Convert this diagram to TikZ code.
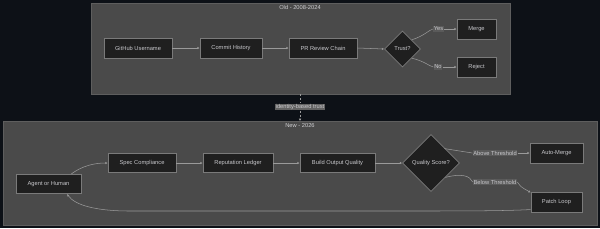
\documentclass[tikz,border=0pt]{standalone}
\usepackage{fontspec}
\setmainfont{Liberation Sans}
\usetikzlibrary{shapes.geometric,arrows.meta}
\definecolor{bgc}{HTML}{0D1117}
\definecolor{clfill}{HTML}{4A4A4A}
\definecolor{cldraw}{HTML}{5E5E5E}
\definecolor{nfill}{HTML}{1F1F1F}
\definecolor{ndraw}{HTML}{7A7A7A}
\definecolor{ntext}{HTML}{C8C8CC}
\definecolor{ecol}{HTML}{9A9A9A}
\definecolor{lfill}{HTML}{5A5A5A}
\begin{document}
\begin{tikzpicture}[x=0.3mm,y=-0.3mm,
  every node/.style={font=\fontsize{4.9}{5.5}\selectfont, text=ntext, inner sep=0pt},
  cluster/.style={draw=cldraw, fill=clfill, line width=0.4pt},
  ctitle/.style={font=\fontsize{4.9}{5.5}\selectfont, text=ntext!90!white},
  box/.style={draw=ndraw, fill=nfill, rectangle, line width=0.5pt, minimum height=6mm},
  dia/.style={draw=ndraw, fill=nfill, diamond, line width=0.5pt, aspect=1},
  elab/.style={fill=lfill, text=ntext, inner sep=0.6pt},
  edge/.style={draw=ecol, line width=0.45pt, -{Latex[length=2pt,width=2pt]}},
  plain/.style={draw=ecol, line width=0.45pt}
]
\useasboundingbox (0,0) rectangle (600,228);
\fill[bgc] (0,0) rectangle (600,228);

% clusters
\draw[cluster] (91,3) rectangle (510,94);
\node[ctitle] (oldtitle) at (300,7) {Old - 2008-2024};
\draw[cluster] (3,121) rectangle (597,225);
\node[ctitle] (newtitle) at (300,125.5) {New - 2026};

% old nodes
\node[box, minimum width=68*0.3mm] (gh) at (138,48) {GitHub Username};
\node[box, minimum width=62*0.3mm] (ch) at (231,48) {Commit History};
\node[box, minimum width=68*0.3mm] (pr) at (323,48) {PR Review Chain};
\node[dia, minimum width=36*0.3mm, minimum height=36*0.3mm] (trust) at (402.5,49) {Trust?};
\node[box, minimum width=39*0.3mm] (merge) at (476.5,29) {Merge};
\node[box, minimum width=39*0.3mm] (reject) at (476.5,67) {Reject};
\node[elab] (yes) at (438.5,29) {Yes};
\node[elab] (no) at (438,67) {No};

\draw[edge] (gh.east) -- (ch.west);
\draw[edge] (ch.east) -- (pr.west);
\draw[edge] (pr.east) -- (trust.west);
\draw[plain] (trust.north east) .. controls (424,36) and (429,30) .. (yes.west);
\draw[edge] (yes.east) -- (merge.west);
\draw[plain] (trust.south east) .. controls (424,61) and (429,66) .. (no.west);
\draw[edge] (no.east) -- (reject.west);

% new nodes
\node[box, minimum width=65*0.3mm, minimum height=19.5*0.3mm] (agent) at (48.5,184) {Agent or Human};
\node[box, minimum width=68*0.3mm, minimum height=19.5*0.3mm] (spec) at (142,163) {Spec Compliance};
\node[box, minimum width=70*0.3mm, minimum height=19.5*0.3mm] (rep) at (238,163) {Reputation Ledger};
\node[box, minimum width=75*0.3mm, minimum height=19.5*0.3mm] (build) at (337.5,163) {Build Output Quality};
\node[dia, minimum width=57*0.3mm, minimum height=57*0.3mm] (qs) at (431,163) {Quality Score?};
\node[box, minimum width=53*0.3mm, minimum height=20*0.3mm] (auto) at (556.5,153) {Auto-Merge};
\node[box, minimum width=51*0.3mm, minimum height=19.5*0.3mm] (patch) at (556.5,202.5) {Patch Loop};
\node[elab] (above) at (495,153) {Above Threshold};
\node[elab] (below) at (495,182) {Below Threshold};

\draw[edge] ([xshift=-10*0.3mm]agent.north east)
  .. controls (82,166) and (94,163) .. (spec.west);
\draw[edge] (spec.east) -- (rep.west);
\draw[edge] (rep.east) -- (build.west);
\draw[edge] (build.east) -- (qs.west);
\draw[plain] ([xshift=-1*0.3mm]qs.north east) -- (above.west);
\draw[edge] (above.east) -- (auto.west);
\draw[plain] (qs.south east) .. controls (462,173) and (470,176) .. (below.west);
\draw[edge] (below.east) .. controls (521,187) .. (patch.north west);
\draw[edge] ([yshift=3*0.3mm]patch.south west)
  .. controls (505,211) and (460,211) .. (400,211) -- (130,211)
  .. controls (95,211) and (75,205) .. ([xshift=18.5*0.3mm]agent.south);

% between clusters
\coordinate (oldbot) at (300,94);
\coordinate (newtop) at (300,121);
\node[elab, fill=lfill!95!white] (idlab) at (300,107) {identity-based trust};
\draw[plain, dashed, dash pattern=on 2pt off 1.5pt] (oldbot) -- (idlab.north);
\draw[edge, dashed, dash pattern=on 2pt off 1.5pt] (idlab.south) -- (newtop);
\end{tikzpicture}
\end{document}
